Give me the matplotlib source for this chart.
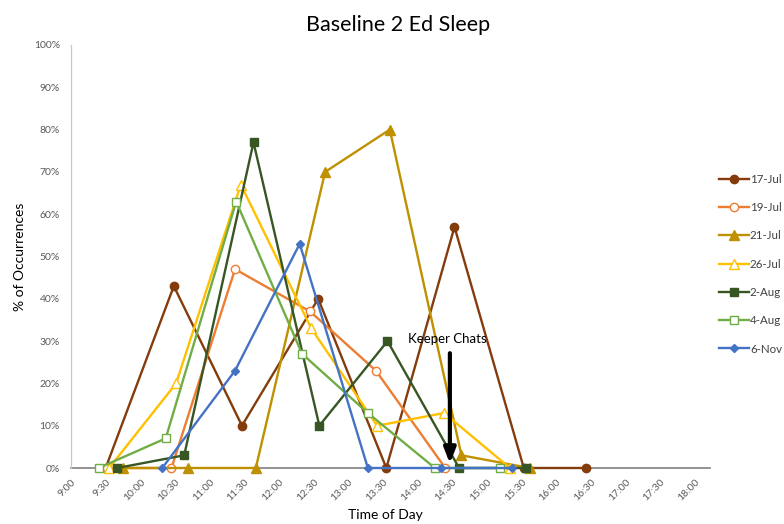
"""Baseline 2 sleep occurrences by time of day, one line per observation date."""

import matplotlib

matplotlib.use("Agg")
import matplotlib.pyplot as plt
from matplotlib.ticker import FixedLocator, FuncFormatter, MultipleLocator

plt.rcParams["font.family"] = ["Lato", "DejaVu Sans"]

# observation times (H:MM) and percent of occurrences per session
TIMES_17JUL = ["9:30", "10:29", "11:28", "12:34", "13:33", "14:32", "15:32", "16:26"]
PCT_17JUL = [0, 43, 10, 40, 0, 57, 0, 0]

TIMES_19JUL = ["9:31", "10:27", "11:22", "12:27", "13:24", "14:24"]
PCT_19JUL = [0, 0, 47, 37, 23, 0]

TIMES_21JUL = ["9:45", "10:41", "11:40", "12:40", "13:36", "14:38", "15:37"]
PCT_21JUL = [0, 0, 0, 70, 80, 3, 0]

TIMES_26JUL = ["9:33", "10:31", "11:27", "12:28", "13:25", "14:23", "15:20"]
PCT_26JUL = [0, 20, 67, 33, 10, 13, 0]

TIMES_2AUG = ["9:40", "10:38", "11:38", "12:35", "13:34", "14:36", "15:34"]
PCT_2AUG = [0, 3, 77, 10, 30, 0, 0]

TIMES_4AUG = ["9:24", "10:22", "11:23", "12:20", "13:17", "14:15", "15:11"]
PCT_4AUG = [0, 7, 63, 27, 13, 0, 0]

TIMES_6NOV = ["10:19", "11:22", "12:18", "13:17", "14:20", "15:22"]
PCT_6NOV = [0, 23, 53, 0, 0, 0]

SERIES_LABELS = ["17-Jul", "19-Jul", "21-Jul", "26-Jul", "2-Aug", "4-Aug", "6-Nov"]

TICK_LABELS = [
    "9:00", "9:30", "10:00", "10:30", "11:00", "11:30", "12:00", "12:30", "13:00",
    "13:30", "14:00", "14:30", "15:00", "15:30", "16:00", "16:30", "17:00", "17:30", "18:00",
]

KEEPER_CHATS_TIME = "14:28"


def to_hours(stamp):
    hours, minutes = stamp.split(":")
    return int(hours) + int(minutes) / 60.0


series = [
    (TIMES_17JUL, PCT_17JUL, dict(color="#843c0c", marker="o", mfc="#843c0c", ms=6)),
    (TIMES_19JUL, PCT_19JUL, dict(color="#ed7d31", marker="o", mfc="white", ms=6)),
    (TIMES_21JUL, PCT_21JUL, dict(color="#bf9000", marker="^", mfc="#bf9000", ms=6.5)),
    (TIMES_26JUL, PCT_26JUL, dict(color="#ffc000", marker="^", mfc="white", ms=6.5)),
    (TIMES_2AUG, PCT_2AUG, dict(color="#375623", marker="s", mfc="#375623", ms=6)),
    (TIMES_4AUG, PCT_4AUG, dict(color="#70ad47", marker="s", mfc="white", ms=6)),
    (TIMES_6NOV, PCT_6NOV, dict(color="#4472c4", marker="D", mfc="#4472c4", ms=4.5)),
]

fig = plt.figure(figsize=(7.84, 5.24), dpi=100)
ax = fig.add_axes([71 / 784, 1 - 468 / 524, 639 / 784, 423 / 524])

for (times, pct, style), label in zip(series, SERIES_LABELS):
    ax.plot(
        [to_hours(t) for t in times],
        [p / 100 for p in pct],
        label=label,
        linewidth=1.7,
        markeredgewidth=1.0,
        clip_on=False,
        **style,
    )

ax.set_xlim(9.0, 18.22)
ax.set_ylim(0, 1.0)

tick_hours = [to_hours(t) for t in TICK_LABELS]
ax.xaxis.set_major_locator(FixedLocator(tick_hours))
ax.set_xticklabels(TICK_LABELS, rotation=45, ha="right", va="top", rotation_mode="anchor")
ax.yaxis.set_major_locator(MultipleLocator(0.1))
ax.yaxis.set_major_formatter(FuncFormatter(lambda v, _: f"{v * 100:.0f}%"))
ax.tick_params(axis="both", length=0, labelsize=7.5, labelcolor="#595959")
ax.tick_params(axis="x", pad=7)
ax.tick_params(axis="y", pad=8)

for name in ("top", "right"):
    ax.spines[name].set_visible(False)
ax.spines["left"].set_color("#c8c8c8")
ax.spines["left"].set_linewidth(0.9)
ax.spines["bottom"].set_color("#808080")
ax.spines["bottom"].set_linewidth(1.2)
ax.spines["bottom"].set_zorder(0.5)

# keeper chat marker
chat_x = to_hours(KEEPER_CHATS_TIME)
ax.annotate(
    "",
    xy=(chat_x, 0.004),
    xytext=(chat_x, 0.278),
    arrowprops=dict(arrowstyle="-|>,head_length=0.9,head_width=0.35", color="black", lw=3),
    zorder=5,
)
ax.text(chat_x - 0.04, 0.29, "Keeper Chats", ha="center", va="bottom", fontsize=9.5, color="black")

fig.text(398 / 784, 1 - 25 / 524, "Baseline 2 Ed Sleep", ha="center", va="center", fontsize=15.5, color="black")
fig.text(385 / 784, 1 - 515 / 524, "Time of Day", ha="center", va="center", fontsize=10, color="black")
fig.text(20 / 784, 1 - 257 / 524, "% of Occurrences", ha="center", va="center", rotation=90, fontsize=10, color="black")

fig.legend(
    loc="upper left",
    bbox_to_anchor=(713 / 784, 1 - 168 / 524),
    frameon=False,
    fontsize=8.3,
    handlelength=2.6,
    handletextpad=0.1,
    labelspacing=1.5,
    borderpad=0,
    labelcolor="#404040",
)

fig.savefig("out.png", dpi=100, facecolor="white")
